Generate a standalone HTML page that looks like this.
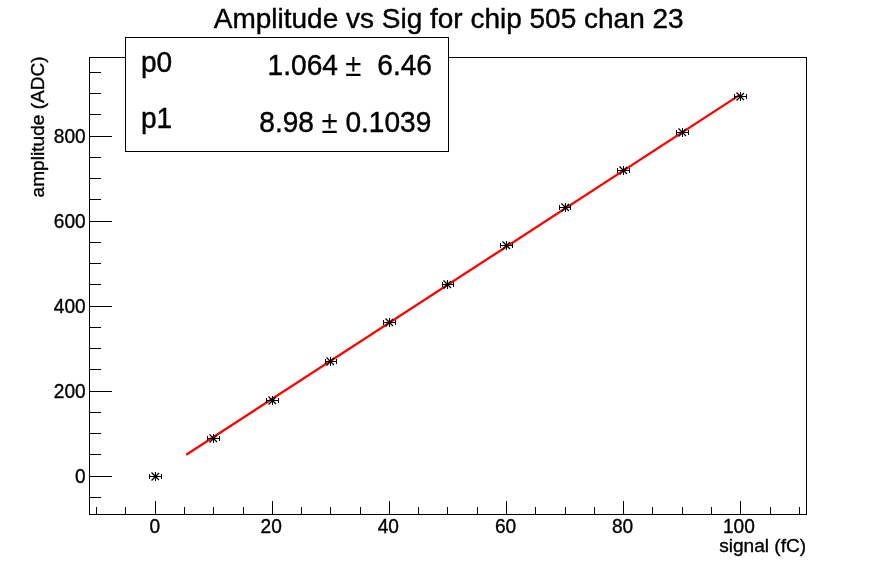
<!DOCTYPE html>
<html><head><meta charset="utf-8"><title>Amplitude vs Sig for chip 505 chan 23</title>
<style>
html,body{margin:0;padding:0;background:#fff;}
body{width:896px;height:572px;overflow:hidden;}
svg{display:block;}
text{font-family:"Liberation Sans",Arial,Helvetica,sans-serif;fill:#000;}
.ax{stroke:#000;stroke-width:1;fill:none;shape-rendering:crispEdges;}
.lb{font-size:19.1px;stroke:#000;stroke-width:0.35px;}
.st{font-size:28.1px;stroke:#000;stroke-width:0.4px;}
.pm{stroke:none;font-size:29.5px;}
</style></head><body>
<svg width="896" height="572" viewBox="0 0 896 572">
<rect x="0" y="0" width="896" height="572" fill="#fff"/>

<rect class="ax" x="89.5" y="57.5" width="717" height="457"/>
<path class="ax" d="M96.5 515V507M125.5 515V507M155.5 515V501M184.5 515V507M213.5 515V507M243.5 515V507M272.5 515V501M301.5 515V507M330.5 515V507M360.5 515V507M389.5 515V501M418.5 515V507M447.5 515V507M477.5 515V507M506.5 515V501M535.5 515V507M565.5 515V507M594.5 515V507M623.5 515V501M652.5 515V507M682.5 515V507M711.5 515V507M740.5 515V501M770.5 515V507M799.5 515V507M89 497.5H101M89 476.5H112M89 454.5H101M89 433.5H101M89 412.5H101M89 391.5H112M89 369.5H101M89 348.5H101M89 327.5H101M89 306.5H112M89 284.5H101M89 263.5H101M89 242.5H101M89 221.5H112M89 199.5H101M89 178.5H101M89 157.5H101M89 136.5H112M89 114.5H101M89 93.5H101M89 72.5H101"/>
<text class="lb" transform="translate(154.9 532.7) scale(1 1.04)" text-anchor="middle">0</text>
<text class="lb" transform="translate(271.2 532.7) scale(1 1.04)" text-anchor="middle">20</text>
<text class="lb" transform="translate(388.3 532.7) scale(1 1.04)" text-anchor="middle">40</text>
<text class="lb" transform="translate(505.5 532.7) scale(1 1.04)" text-anchor="middle">60</text>
<text class="lb" transform="translate(622.6 532.7) scale(1 1.04)" text-anchor="middle">80</text>
<text class="lb" transform="translate(738.9 532.7) scale(1 1.04)" text-anchor="middle">100</text>
<text class="lb" transform="translate(85.7 483.3) scale(1 1.04)" text-anchor="end">0</text>
<text class="lb" transform="translate(85.7 398.3) scale(1 1.04)" text-anchor="end">200</text>
<text class="lb" transform="translate(85.7 313.3) scale(1 1.04)" text-anchor="end">400</text>
<text class="lb" transform="translate(85.7 228.3) scale(1 1.04)" text-anchor="end">600</text>
<text class="lb" transform="translate(85.7 143.3) scale(1 1.04)" text-anchor="end">800</text>
<text class="lb" x="806.2" y="551.7" text-anchor="end">signal (fC)</text>
<text class="lb" transform="translate(43.7 56.3) rotate(-90)" text-anchor="end">amplitude (ADC)</text>
<text transform="translate(213.8 27.9) scale(1 1.01)" style="font-size:28px;stroke:#000;stroke-width:0.4px">Amplitude vs Sig for chip 505 chan 23</text>
<line x1="186.2" y1="454.8" x2="739.8" y2="94.9" stroke="#ff0000" stroke-width="2.3"/>
<path d="M149.0 476.5H162.0M149.5 474.0V479.0M161.5 474.0V479.0M155.5 472.0V481.0M207.0 438.5H220.0M207.5 436.0V441.0M219.5 436.0V441.0M213.5 434.0V443.0M266.0 400.5H279.0M266.5 398.0V403.0M278.5 398.0V403.0M272.5 396.0V405.0M325.0 361.5H337.0M325.5 359.0V364.0M336.5 359.0V364.0M330.5 357.0V366.0M383.0 322.5H396.0M383.5 320.0V325.0M395.5 320.0V325.0M389.5 318.0V327.0M442.0 284.5H454.0M442.5 282.0V287.0M453.5 282.0V287.0M447.5 280.0V289.0M500.0 245.5H513.0M500.5 243.0V248.0M512.5 243.0V248.0M506.5 241.0V250.0M559.0 207.5H571.0M559.5 205.0V210.0M570.5 205.0V210.0M565.5 203.0V212.0M617.0 170.5H630.0M617.5 168.0V173.0M629.5 168.0V173.0M623.5 166.0V175.0M676.0 132.5H689.0M676.5 130.0V135.0M688.5 130.0V135.0M682.5 128.0V137.0M734.0 96.5H747.0M734.5 94.0V99.0M746.5 94.0V99.0M740.5 92.0V101.0" stroke="#000" stroke-width="1" fill="none" shape-rendering="crispEdges"/>
<path d="M151.5 472.5L159.0 480.0M151.5 480.5L159.0 473.0M209.5 434.5L217.0 442.0M209.5 442.5L217.0 435.0M268.5 396.5L276.0 404.0M268.5 404.5L276.0 397.0M326.5 357.5L334.0 365.0M326.5 365.5L334.0 358.0M385.5 318.5L393.0 326.0M385.5 326.5L393.0 319.0M443.5 280.5L451.0 288.0M443.5 288.5L451.0 281.0M502.5 241.5L510.0 249.0M502.5 249.5L510.0 242.0M561.5 203.5L569.0 211.0M561.5 211.5L569.0 204.0M619.5 166.5L627.0 174.0M619.5 174.5L627.0 167.0M678.5 128.5L686.0 136.0M678.5 136.5L686.0 129.0M736.5 92.5L744.0 100.0M736.5 100.5L744.0 93.0" stroke="#000" stroke-width="1.3" fill="none"/>
<rect class="ax" x="125.5" y="37.5" width="323" height="114" fill="#fff" style="fill:#fff"/>
<text class="st" transform="translate(140.9 71.8) scale(1 1.03)">p0</text>
<text class="st" transform="translate(140.9 128.3) scale(1 1.03)">p1</text>
<text class="st" transform="translate(267.6 75.0) scale(1 1.04)">1.064</text>
<text class="st pm" transform="translate(345.2 75.6) scale(1 1.04)">±</text>
<text class="st" transform="translate(377.3 75.0) scale(1 1.04)">6.46</text>
<text class="st" transform="translate(259.3 132.2) scale(1 1.04)">8.98</text>
<text class="st pm" transform="translate(321.4 132.8) scale(1 1.04)">±</text>
<text class="st" transform="translate(345.4 132.2) scale(1 1.04)">0.1039</text>
</svg></body></html>
